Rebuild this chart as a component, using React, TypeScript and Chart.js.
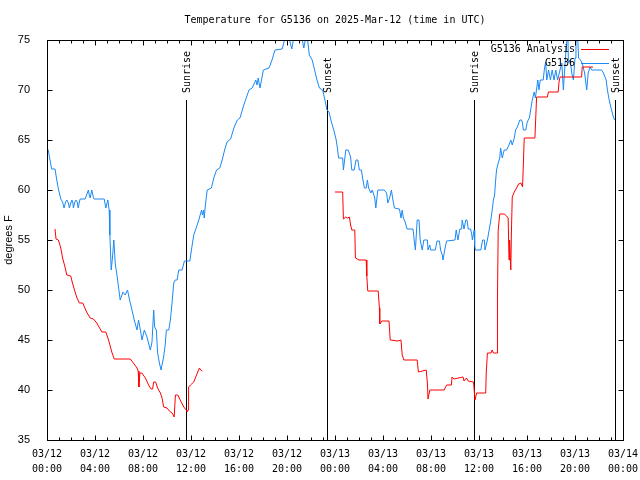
import React, { useEffect, useRef } from 'react';
import { Chart, registerables } from 'chart.js';

Chart.register(...registerables);

const titleText = 'Temperature for G5136 on 2025-Mar-12 (time in UTC)';
const yAxisTitle = 'degrees F';
const xTickDates = ['03/12', '03/12', '03/12', '03/12', '03/12', '03/12', '03/13', '03/13', '03/13', '03/13', '03/13', '03/13', '03/14'];
const xTickTimes = ['00:00', '04:00', '08:00', '12:00', '16:00', '20:00', '00:00', '04:00', '08:00', '12:00', '16:00', '20:00', '00:00'];

const obsLabel = 'G5136';
const anaLabel = 'G5136 Analysis';

// Observations: hours since 03/12 00:00 UTC, temperature (F)
const obsHours = [
  0.0, 0.1, 0.25, 0.39, 0.67, 0.8, 0.95, 1.15, 1.3, 1.42, 1.55, 1.65, 1.75, 1.87, 2.0, 2.06, 2.15, 2.2, 2.32, 2.42,
  2.52, 2.6, 2.7, 2.76, 3.18, 3.3, 3.45, 3.52, 3.6, 3.73, 3.82, 3.87, 3.93, 4.77, 4.9, 5.07, 5.18, 5.24, 5.35, 5.46,
  5.57, 5.69, 5.83, 5.96, 6.1, 6.33, 6.52, 6.71, 6.88, 7.08, 7.27, 7.5, 7.63, 7.78, 7.92, 8.11, 8.33, 8.5, 8.61, 8.75,
  8.89, 8.97, 9.11, 9.22, 9.35, 9.5, 9.72, 9.85, 9.95, 10.15, 10.28, 10.42, 10.56, 10.68, 10.84, 10.98, 11.26, 11.45, 11.9, 12.1,
  12.23, 12.46, 12.65, 12.88, 12.95, 13.05, 13.1, 13.2, 13.35, 13.7, 13.9, 14.13, 14.4, 14.6, 14.8, 15.0, 15.3, 15.6, 15.86, 16.08,
  16.4, 16.83, 17.1, 17.4, 17.5, 17.6, 17.75, 18.03, 18.5, 18.75, 19.0, 19.6, 19.9, 20.1, 20.4, 20.6, 21.2, 21.4, 21.6, 21.7,
  21.86, 22.1, 22.3, 22.5, 22.7, 22.97, 23.16, 23.33, 23.5, 23.7, 23.9, 24.1, 24.2, 24.3, 24.64, 24.7, 24.9, 25.1, 25.3, 25.4,
  25.6, 25.75, 25.9, 26.03, 26.2, 26.3, 26.45, 26.6, 26.7, 26.8, 26.99, 27.1, 27.3, 27.4, 27.57, 28.1, 28.3, 28.4, 28.55, 28.7,
  28.8, 28.95, 29.37, 29.5, 29.6, 29.7, 29.85, 30.0, 30.5, 30.6, 30.7, 30.85, 31.0, 31.1, 31.27, 31.4, 31.7, 31.75, 31.9, 31.97,
  32.36, 32.5, 32.7, 32.8, 32.94, 33.0, 33.14, 33.3, 34.0, 34.1, 34.25, 34.4, 34.55, 34.6, 34.75, 34.9, 35.0, 35.1, 35.3, 35.4,
  35.45, 35.6, 35.64, 35.7, 36.15, 36.3, 36.45, 36.5, 36.7, 36.8, 36.95, 37.1, 37.2, 37.3, 37.37, 37.46, 37.6, 37.73, 37.8, 37.94,
  38.1, 38.3, 38.5, 38.65, 38.77, 38.94, 39.05, 39.2, 39.4, 39.55, 39.62, 39.7, 39.9, 40.0, 40.1, 40.2, 40.3, 40.44, 40.6, 40.7,
  40.9, 41.0, 41.1, 41.35, 41.44, 41.55, 41.65, 41.8, 41.95, 42.1, 42.25, 42.4, 42.55, 42.75, 42.9, 43.03, 43.12, 43.25, 43.4, 43.45,
  43.6, 43.73, 43.87, 44.0, 44.08, 44.2, 44.3, 44.45, 44.6, 44.8, 44.98, 45.1, 45.26, 45.4, 46.2, 46.37, 46.6, 46.7, 46.85, 47.0,
  47.2, 47.3,
];
const obsTemps = [
  64.2, 64.0, 63.0, 62.1, 62.1, 61.1, 60.1, 59.1, 58.8, 58.2, 58.8, 59.0, 58.8, 58.2, 58.8, 59.0, 58.8, 58.2, 58.8, 59.0,
  58.8, 58.2, 58.8, 59.1, 59.1, 59.5, 60.0, 59.5, 59.2, 60.0, 59.5, 59.2, 59.1, 59.1, 58.2, 59.0, 58.0, 55.5, 52.0, 53.3,
  55.0, 52.6, 51.5, 50.3, 49.0, 49.8, 49.5, 50.0, 49.0, 48.0, 47.0, 46.0, 47.0, 46.0, 45.0, 46.0, 45.3, 44.5, 44.0, 44.8,
  48.0, 46.3, 46.0, 43.7, 42.8, 42.0, 43.3, 44.5, 46.0, 46.0, 47.0, 48.7, 50.7, 51.0, 51.0, 52.0, 52.0, 52.9, 52.9, 54.5,
  55.5, 56.3, 57.0, 58.0, 57.5, 58.0, 57.2, 58.5, 60.0, 60.2, 61.2, 62.0, 62.2, 63.0, 64.0, 64.8, 65.1, 66.3, 67.0, 67.2,
  68.5, 70.0, 70.2, 71.0, 70.5, 71.2, 70.2, 72.0, 72.2, 73.0, 74.0, 74.1, 75.5, 75.5, 74.1, 75.5, 75.5, 74.2, 75.5, 75.2,
  73.5, 73.0, 72.0, 71.0, 70.2, 70.0, 69.0, 68.0, 67.8, 66.8, 66.0, 65.0, 64.2, 63.2, 63.2, 62.0, 64.0, 64.0, 63.3, 62.0,
  62.0, 63.0, 63.0, 62.0, 62.0, 61.2, 60.2, 60.2, 61.0, 60.2, 59.7, 60.0, 59.3, 58.2, 60.0, 60.0, 59.7, 58.7, 59.2, 60.0,
  59.2, 58.2, 58.1, 57.2, 58.0, 57.2, 56.8, 56.1, 56.1, 55.0, 54.0, 57.0, 57.0, 55.0, 54.0, 55.0, 55.0, 54.0, 54.5, 54.0,
  54.0, 54.9, 54.9, 54.0, 53.5, 53.0, 54.0, 54.9, 55.0, 56.0, 55.0, 56.1, 56.1, 57.0, 56.1, 57.0, 57.0, 56.1, 56.1, 55.5,
  55.0, 56.0, 54.5, 54.0, 54.0, 55.0, 55.0, 54.0, 55.0, 55.7, 56.7, 58.0, 59.0, 59.5, 60.7, 62.0, 62.7, 63.2, 64.2, 63.2,
  64.0, 64.0, 64.5, 65.0, 64.5, 65.2, 66.0, 66.3, 67.0, 67.0, 66.7, 66.0, 66.0, 66.7, 67.0, 67.2, 68.0, 69.0, 69.8, 69.2,
  71.0, 70.0, 71.0, 71.0, 72.0, 72.8, 71.0, 72.0, 71.0, 72.0, 71.0, 72.0, 71.0, 72.0, 72.7, 70.0, 71.7, 74.0, 76.0, 72.7,
  73.0, 71.7, 71.0, 73.2, 74.7, 76.0, 73.2, 73.0, 72.7, 71.7, 70.0, 71.7, 72.3, 72.0, 72.0, 71.7, 71.0, 70.0, 69.0, 68.2,
  67.3, 67.0,
];

// Analysis: hours since 03/12 00:00 UTC, temperature (F); null = no analysis
const anaHours = [
  0.67, 0.75, 0.95, 1.15, 1.3, 1.5, 1.65, 1.98, 2.1, 2.34, 2.5, 2.7, 2.98, 3.3, 3.6, 3.87, 4.15, 4.57, 4.9, 5.13,
  5.4, 5.6, 6.94, 7.2, 7.5, 7.6, 7.66, 7.74, 7.9, 8.2, 8.47, 8.67, 8.8, 8.89, 9.05, 9.22, 9.45, 9.59, 9.72, 10.0,
  10.28, 10.43, 10.6, 10.7, 10.9, 11.1, 11.4, 11.6, 11.68, 11.75, 11.8, 11.96, 12.23, 12.46, 12.7, 12.8, 12.94, 13.0,
  24.0, 24.64, 24.7, 24.9, 25.05, 25.2, 25.3, 25.4, 25.65, 25.7, 26.0, 26.6, 26.65, 26.73, 27.6, 27.7, 27.73, 27.9, 28.5, 28.6,
  29.24, 29.5, 29.6, 29.74, 30.85, 30.95, 31.6, 31.7, 31.75, 31.9, 33.1, 33.3, 33.7, 33.75, 33.9, 34.67, 34.75, 34.95, 35.1, 35.55,
  35.6, 35.67, 35.8, 36.56, 36.6, 36.7, 37.0, 37.1, 37.2, 37.5, 37.54, 37.6, 37.73, 38.1, 38.3, 38.43, 38.5, 38.55, 38.65, 38.7,
  38.77, 38.94, 39.13, 39.3, 39.5, 39.63, 39.7, 39.77, 40.66, 40.8, 41.7, 41.78, 42.6, 42.67, 42.75, 44.55, 44.6, 45.5,
];
const anaTemps = [
  56.1, 55.1, 55.0, 54.2, 53.2, 52.3, 51.5, 51.4, 50.8, 49.8, 49.2, 48.7, 48.7, 47.8, 47.2, 47.1, 46.7, 45.8, 45.8, 45.0,
  43.8, 43.1, 43.1, 42.7, 42.2, 41.9, 40.3, 41.7, 41.7, 41.2, 40.5, 40.1, 40.1, 40.8, 40.8, 40.2, 39.7, 39.2, 38.3, 38.2,
  37.8, 37.7, 37.3, 39.5, 39.5, 39.0, 38.3, 38.0, 37.8, 38.0, 40.3, 40.5, 40.8, 41.5, 42.2, 42.0, 41.9, null,
  59.8, 59.8, 57.1, 57.3, 57.2, 57.3, 56.5, 56.0, 56.0, 53.2, 53.0, 53.0, 51.4, 49.9, 49.9, 48.2, 46.6, 46.9, 46.9, 45.0,
  44.9, 45.0, 43.5, 43.0, 43.0, 41.8, 42.0, 40.7, 39.1, 40.0, 40.0, 40.5, 40.5, 41.3, 41.1, 41.3, 40.9, 41.2, 40.9, 40.8,
  40.0, 39.0, 39.7, 39.7, 41.6, 43.7, 43.7, 44.0, 43.7, 43.7, 49.3, 56.0, 57.6, 57.6, 57.4, 57.2, 53.0, 55.0, 52.0, 55.7,
  59.3, 59.8, 60.2, 60.6, 60.7, 60.3, 62.7, 65.2, 65.2, 69.3, 69.3, 69.8, 69.8, 70.8, 71.3, 71.3, 72.3, 72.3,
];

const sunHours = [11.62, 23.33, 35.6, 47.3];
const sunLabels = ['Sunrise', 'Sunset', 'Sunrise', 'Sunset'];
const sunLineTop = 69;

const obsColor = '#1a88f5';
const anaColor = '#ff0000';
const monoFont = '"DejaVu Sans Mono", monospace';
const sansFont = '"Liberation Sans", Arial, sans-serif';

const decorPlugin = {
  id: 'decor',
  beforeDatasetsDraw(chart: any) {
    const { ctx, chartArea: a, scales } = chart;
    const x = scales.x;
    const y = scales.y;
    ctx.save();
    ctx.strokeStyle = '#000';
    ctx.fillStyle = '#000';
    ctx.lineWidth = 1;
    const topPx = Math.round(y.getPixelForValue(sunLineTop));
    sunHours.forEach((h, i) => {
      const px = Math.round(x.getPixelForValue(h)) + 0.5;
      ctx.beginPath();
      ctx.moveTo(px, topPx);
      ctx.lineTo(px, a.bottom);
      ctx.stroke();
      ctx.save();
      ctx.translate(px + 1, topPx - 7);
      ctx.rotate(-Math.PI / 2);
      ctx.font = '10px ' + monoFont;
      ctx.textAlign = 'left';
      ctx.textBaseline = 'middle';
      ctx.fillText(sunLabels[i], 0, 0);
      ctx.restore();
    });
    ctx.restore();
  },
  afterDatasetsDraw(chart: any) {
    const { ctx, chartArea: a, scales } = chart;
    const x = scales.x;
    const y = scales.y;
    ctx.save();
    ctx.strokeStyle = '#000';
    ctx.lineWidth = 1;
    const L = Math.round(a.left) + 0.5;
    const R = Math.round(a.right) + 0.5;
    const T = Math.round(a.top) + 0.5;
    const B = Math.round(a.bottom) + 0.5;
    ctx.beginPath();
    // x ticks (hourly, longer every 4h) on bottom and top
    for (let h = 0; h <= 48; h++) {
      const px = Math.round(x.getPixelForValue(h)) + 0.5;
      const len = h % 4 === 0 ? 5 : 3;
      ctx.moveTo(px, B);
      ctx.lineTo(px, B - len);
      ctx.moveTo(px, T);
      ctx.lineTo(px, T + len);
    }
    for (let v = 35; v <= 75; v += 5) {
      const py = Math.round(y.getPixelForValue(v)) + 0.5;
      ctx.moveTo(L, py);
      ctx.lineTo(L + 5, py);
      ctx.moveTo(R, py);
      ctx.lineTo(R - 5, py);
    }
    ctx.stroke();
    ctx.strokeRect(L, T, R - L, B - T);

    // legend
    ctx.font = '10px ' + monoFont;
    ctx.textAlign = 'right';
    ctx.textBaseline = 'middle';
    ctx.fillStyle = '#000';
    const rows = [
      { label: anaLabel, color: anaColor, y: 49 },
      { label: obsLabel, color: obsColor, y: 63 },
    ];
    rows.forEach((r) => {
      ctx.fillText(r.label, 575, r.y);
      ctx.strokeStyle = r.color;
      ctx.beginPath();
      ctx.moveTo(581, r.y + 0.5);
      ctx.lineTo(609, r.y + 0.5);
      ctx.stroke();
    });

    // title
    ctx.fillStyle = '#000';
    ctx.textAlign = 'center';
    ctx.fillText(titleText, (a.left + a.right) / 2, 20);
    ctx.restore();
  },
};

export default function App() {
  const ref = useRef<HTMLCanvasElement | null>(null);
  useEffect(() => {
    if (!ref.current) return;
    const chart = new Chart(ref.current, {
      type: 'line',
      data: {
        datasets: [
          {
            label: anaLabel,
            data: anaHours.map((h, i) => ({ x: h, y: anaTemps[i] as any })),
            borderColor: anaColor,
            backgroundColor: anaColor,
            borderWidth: 1,
            pointRadius: 0,
            tension: 0,
            spanGaps: false,
          },
          {
            label: obsLabel,
            data: obsHours.map((h, i) => ({ x: h, y: obsTemps[i] })),
            borderColor: obsColor,
            backgroundColor: obsColor,
            borderWidth: 1,
            pointRadius: 0,
            tension: 0,
          },
        ],
      },
      options: {
        responsive: false,
        animation: false,
        devicePixelRatio: 1,
        layout: { padding: { top: 40, right: 17, left: 0, bottom: 0 } },
        plugins: {
          legend: { display: false },
          title: { display: false },
          tooltip: { enabled: false },
        },
        scales: {
          x: {
            type: 'linear',
            min: 0,
            max: 48,
            grid: { display: false },
            border: { display: false },
            afterFit: (s: any) => {
              s.height = 40;
            },
            ticks: {
              stepSize: 4,
              autoSkip: false,
              maxRotation: 0,
              minRotation: 0,
              padding: -1,
              color: '#000',
              font: { family: monoFont, size: 10, lineHeight: 1.5 },
              callback: (v: any) => {
                const i = Math.round(Number(v) / 4);
                return [xTickDates[i], xTickTimes[i]];
              },
            },
          },
          y: {
            type: 'linear',
            min: 35,
            max: 75,
            grid: { display: false },
            border: { display: false },
            afterFit: (s: any) => {
              s.width = 47;
            },
            ticks: {
              stepSize: 5,
              padding: 9,
              color: '#000',
              font: { family: sansFont, size: 11 },
            },
            title: {
              display: true,
              text: yAxisTitle,
              color: '#000',
              font: { family: sansFont, size: 11 },
              padding: { top: 2, bottom: 0 },
            },
          },
        },
      },
      plugins: [decorPlugin],
    } as any);
    return () => chart.destroy();
  }, []);
  return (
    <div style={{ position: 'absolute', left: 0, top: 0, width: 640, height: 480, background: '#fff' }}>
      <canvas ref={ref} width={640} height={480} style={{ display: 'block' }} />
    </div>
  );
}
